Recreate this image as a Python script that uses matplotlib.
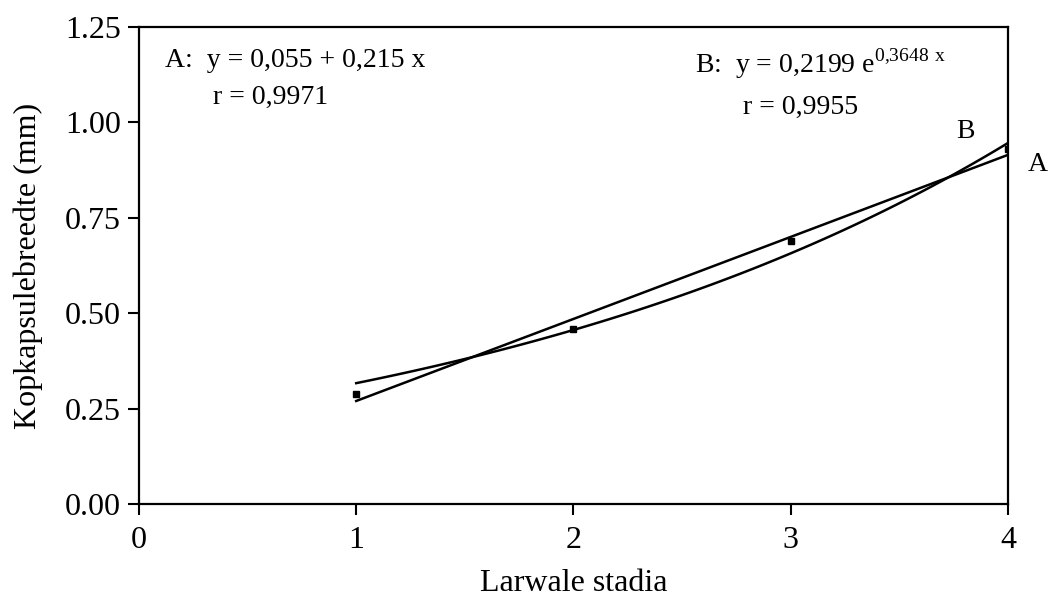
import matplotlib.pyplot as plt
import numpy as np

# measured head capsule widths per larval stage
stadia = [1, 2, 3, 4]
breedte = [0.288, 0.458, 0.688, 0.930]

# fit coefficients as printed on the chart
lin_a, lin_b = 0.055, 0.215
exp_a, exp_b = 0.2199, 0.3648

x_ticks = [0, 1, 2, 3, 4]
y_ticks = [0.00, 0.25, 0.50, 0.75, 1.00, 1.25]

plt.rcParams['font.family'] = ['Liberation Serif', 'DejaVu Serif']

fig = plt.figure(figsize=(10.48, 6.01), dpi=100)
ax = fig.add_axes([0.1326, 0.1614, 0.8292, 0.7936])

xs = np.linspace(1, 4, 100)
ax.plot(xs, lin_a + lin_b * xs, color='black', lw=1.8)
ax.plot(xs, exp_a * np.exp(exp_b * xs), color='black', lw=1.8)
ax.plot(stadia, breedte, 's', color='black', markersize=5)

ax.set_xlim(0, 4)
ax.set_ylim(0, 1.25)
ax.set_xticks(x_ticks)
ax.set_xticklabels([str(t) for t in x_ticks])
ax.set_yticks(y_ticks)
ax.set_yticklabels(['%.2f' % t for t in y_ticks])
ax.tick_params(direction='out', length=8, width=1.5, labelsize=23)
ax.tick_params(axis='x', pad=8)
ax.tick_params(axis='y', pad=5)
for s in ax.spines.values():
    s.set_linewidth(1.6)

ax.set_xlabel('Larwale stadia', fontsize=23, labelpad=10)
ax.set_ylabel('Kopkapsulebreedte (mm)', fontsize=23, labelpad=16)

ax.text(0.12, 1.163, 'A:  y = 0,055 + 0,215 x', fontsize=20, va='center')
ax.text(0.34, 1.065, 'r = 0,9971', fontsize=20, va='center')
ax.text(2.56, 1.155, r'B:  y = 0,2199 e$^{\mathregular{0{,}3648\ x}}$', fontsize=20, va='center')
ax.text(2.78, 1.04, 'r = 0,9955', fontsize=20, va='center')
ax.text(3.76, 0.975, 'B', fontsize=20, va='center')
ax.text(4.09, 0.89, 'A', fontsize=20, va='center', clip_on=False)

plt.savefig('out.png', dpi=100)
